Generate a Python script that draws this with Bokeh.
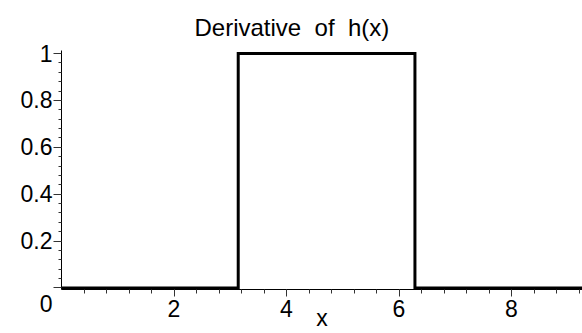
import numpy as np
from bokeh.plotting import figure
from bokeh.models import FixedTicker, NumeralTickFormatter, Range1d
from bokeh.embed import file_html
from bokeh.resources import INLINE

# Derivative of h(x): a unit pulse switched on at pi and off at 2*pi
x_pts = [0.0, 3.1416, 3.1416, 6.2832, 6.2832, 9.4248]
y_pts = [0, 0, 1, 1, 0, 0]

x_ticks = [2, 4, 6, 8]
y_ticks = [0, 0.2, 0.4, 0.6, 0.8, 1]
title_text = "Derivative \u00a0of \u00a0h(x)"
x_label = "x"

FONT = "Liberation Sans"
TICK_SIZE = "23px"

p = figure(
    width=582, height=333,
    output_backend="svg", toolbar_location=None,
    x_range=Range1d(0, 9.262), y_range=Range1d(-0.0064, 1.0128),
    min_border_left=61, min_border_right=0,
    min_border_top=50, min_border_bottom=44,
    title=title_text,
)
p.background_fill_color = "white"
p.border_fill_color = "white"
p.outline_line_color = None
p.xgrid.visible = False
p.ygrid.visible = False

# title
p.title.text_font = FONT
p.title.text_font_size = "24px"
p.title.text_font_style = "normal"
p.title.text_color = "black"
p.title.text_line_height = 1.45
p.title.align = "left"
p.title.offset = 133
p.title.vertical_align = "top"
p.title.standoff = 16

# the step curve
p.line(x_pts, y_pts, line_width=3, line_color="black", line_join="miter")

# x axis
xa = p.xaxis[0]
minor_x = [round(v, 2) for v in np.arange(0.4, 9.3, 0.4)]
xa.ticker = FixedTicker(ticks=x_ticks, minor_ticks=minor_x)
xa.axis_line_color = "black"
xa.axis_line_width = 1
xa.major_tick_in = 0
xa.major_tick_out = 7
xa.minor_tick_in = 0
xa.minor_tick_out = 4
xa.major_tick_line_color = "#333333"
xa.minor_tick_line_color = "#333333"
xa.major_label_text_font = FONT
xa.major_label_text_font_size = TICK_SIZE
xa.major_label_text_color = "black"
xa.major_label_standoff = 3
xa.axis_label = x_label
xa.axis_label_text_font = FONT
xa.axis_label_text_font_size = TICK_SIZE
xa.axis_label_text_font_style = "normal"
xa.axis_label_text_color = "black"
xa.axis_label_standoff = -15

# y axis; the origin label hangs a little below its tick
ya = p.yaxis[0]
minor_y = [round(v, 2) for v in np.arange(0.04, 1.0, 0.04)]
ya.ticker = FixedTicker(ticks=y_ticks, minor_ticks=minor_y)
ya.formatter = NumeralTickFormatter(format="0.[0]")
ya.major_label_overrides = {0: "\n0"}
ya.axis_line_color = "black"
ya.axis_line_width = 1
ya.major_tick_in = 0
ya.major_tick_out = 8
ya.minor_tick_in = 0
ya.minor_tick_out = 3
ya.major_tick_line_color = "#333333"
ya.minor_tick_line_color = "#333333"
ya.major_label_text_font = FONT
ya.major_label_text_font_size = TICK_SIZE
ya.major_label_text_color = "black"
ya.major_label_standoff = 1

open("out.html", "w").write(file_html(p, INLINE))
